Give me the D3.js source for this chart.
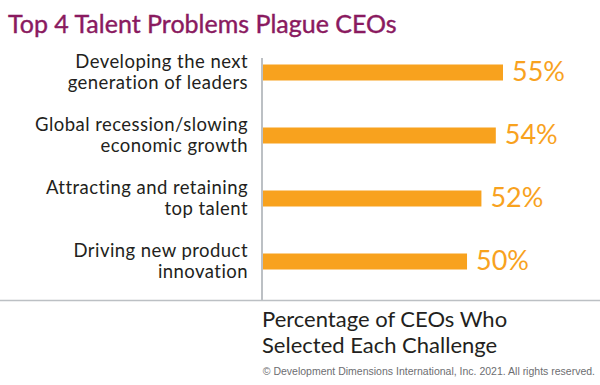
<!DOCTYPE html>
<html>
<head>
<meta charset="utf-8">
<script src="https://cdn.jsdelivr.net/npm/d3@7"></script>
<style>
  body { margin: 0; background: #fff; }
  svg { display: block; }
</style>
</head>
<body>
<div id="chart"></div>
<script>
const categories = [
    ["Developing the next", "generation of leaders"],
    ["Global recession/slowing", "economic growth"],
    ["Attracting and retaining", "top talent"],
    ["Driving new product", "innovation"]
];
const values = [55, 54, 52, 50];
const titleText = "Top 4 Talent Problems Plague CEOs";
const axisTitle = ["Percentage of CEOs Who", "Selected Each Challenge"];
const credit = "\u00A9 Development Dimensions International, Inc. 2021. All rights reserved.";

const width = 600;
const height = 385;
const font = "Lato, 'Open Sans', sans-serif";

const svg = d3.select("#chart").append("svg")
    .attr("width", width)
    .attr("height", height);

// bars don't start at zero in the original, the scale is cut off
const xScale = d3.scaleLinear()
    .domain([21.5, 55])
    .range([262, 503]);

const yScale = d3.scaleBand()
    .domain(d3.range(categories.length))
    .range([41, 293])
    .paddingInner(0.746)
    .paddingOuter(0.373);

svg.append("text")
    .attr("x", 8)
    .attr("y", 33)
    .attr("fill", "#8a1a5f")
    .attr("font-family", font)
    .attr("font-size", 25)
    .attr("stroke", "#8a1a5f")
    .attr("stroke-width", 0.4)
    .text(titleText);

// axis lines
svg.append("line")
    .attr("x1", 0).attr("x2", width)
    .attr("y1", 300.5).attr("y2", 300.5)
    .attr("stroke", "#bcc0c4")
    .attr("stroke-width", 1.5);

svg.append("line")
    .attr("x1", 262).attr("x2", 262)
    .attr("y1", 58).attr("y2", 300)
    .attr("stroke", "#bcc0c4")
    .attr("stroke-width", 2);

svg.selectAll(".bar")
    .data(values)
    .join("rect")
    .attr("class", "bar")
    .attr("x", xScale.range()[0] + 1)
    .attr("y", (d, i) => yScale(i))
    .attr("width", (d) => xScale(d) - xScale.range()[0] - 1)
    .attr("height", yScale.bandwidth())
    .attr("fill", "#f8a21e");

svg.selectAll(".val")
    .data(values)
    .join("text")
    .attr("class", "val")
    .attr("x", (d) => xScale(d) + 9)
    .attr("y", (d, i) => yScale(i) + yScale.bandwidth() / 2 + 8)
    .attr("fill", "#f8a21e")
    .attr("font-family", font)
    .attr("font-size", 27)
    .text((d) => d + "%");

const labels = svg.selectAll(".cat")
    .data(categories)
    .join("text")
    .attr("class", "cat")
    .attr("text-anchor", "end")
    .attr("fill", "#231f20")
    .attr("font-family", font)
    .attr("font-size", 18.5)
    .attr("letter-spacing", 0.45)
    .attr("y", (d, i) => yScale(i) + yScale.bandwidth() / 2);

labels.selectAll("tspan")
    .data((d) => d)
    .join("tspan")
    .attr("x", 248)
    .attr("dy", (d, j) => j === 0 ? -5 : 21.5)
    .text((d) => d);

svg.append("text")
    .attr("font-family", font)
    .attr("font-size", 22)
    .attr("fill", "#231f20")
    .selectAll("tspan")
    .data(axisTitle)
    .join("tspan")
    .attr("x", 262)
    .attr("y", (d, i) => 327 + i * 26)
    .text((d) => d);

svg.append("text")
    .attr("x", 595)
    .attr("y", 375)
    .attr("text-anchor", "end")
    .attr("font-family", "'Liberation Sans', Arial, sans-serif")
    .attr("font-size", 10.5)
    .attr("fill", "#6d6e71")
    .text(credit);
</script>
</body>
</html>
